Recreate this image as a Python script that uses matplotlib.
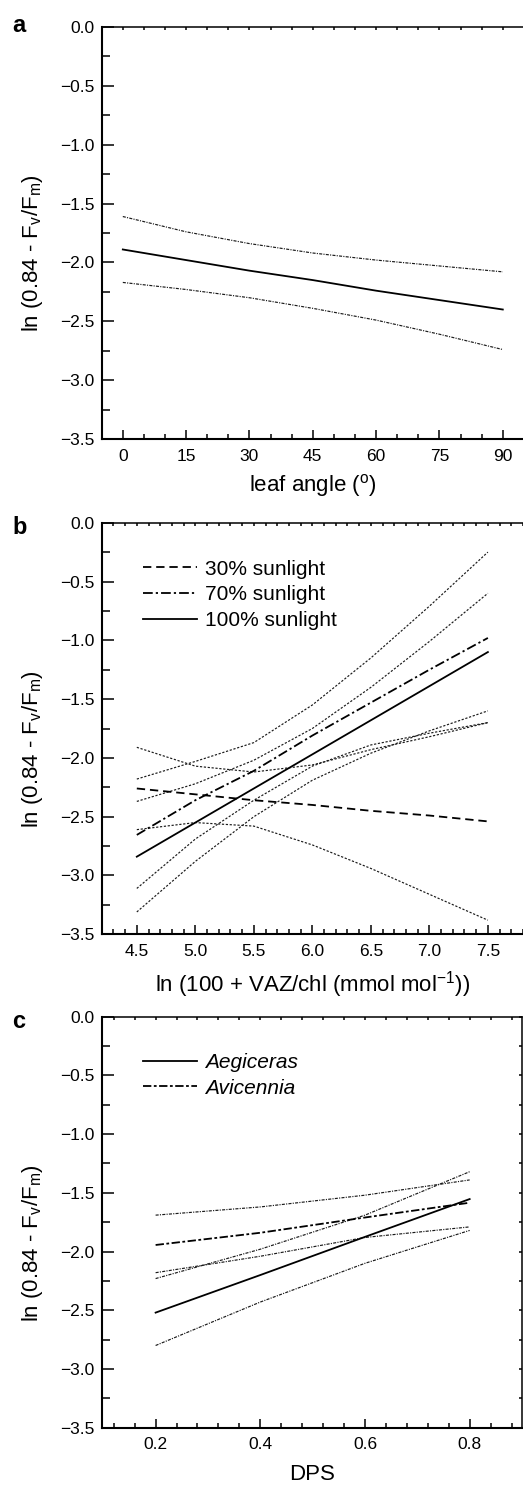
import matplotlib
matplotlib.use("Agg")
import matplotlib.pyplot as plt
from matplotlib.ticker import MultipleLocator

plt.rcParams['font.family'] = ['Liberation Sans', 'DejaVu Sans']
plt.rcParams['mathtext.default'] = 'regular'
plt.rcParams['lines.scale_dashes'] = False

# ---------------- data ----------------
# panel a
angle = [0, 15, 30, 45, 60, 75, 90]
a_fit = [-1.89, -1.98, -2.07, -2.15, -2.24, -2.32, -2.40]
a_up = [-1.61, -1.74, -1.84, -1.92, -1.98, -2.03, -2.08]
a_lo = [-2.17, -2.23, -2.30, -2.39, -2.49, -2.61, -2.74]

# panel b
vaz = [4.5, 5.0, 5.5, 6.0, 6.5, 7.0, 7.5]
b30_fit = [-2.26, -2.31, -2.36, -2.40, -2.45, -2.49, -2.54]
b30_up = [-1.91, -2.07, -2.12, -2.06, -1.93, -1.82, -1.70]
b30_lo = [-2.61, -2.55, -2.58, -2.74, -2.94, -3.16, -3.38]
b70_fit = [-2.655, -2.36, -2.11, -1.81, -1.53, -1.25, -0.98]
b70_up = [-2.18, -2.03, -1.87, -1.55, -1.15, -0.71, -0.25]
b70_lo = [-3.11, -2.69, -2.36, -2.07, -1.89, -1.79, -1.70]
b100_fit = [-2.84, -2.55, -2.26, -1.97, -1.68, -1.39, -1.10]
b100_up = [-2.37, -2.22, -2.02, -1.75, -1.40, -1.01, -0.60]
b100_lo = [-3.31, -2.88, -2.50, -2.19, -1.96, -1.77, -1.60]
b_labels = ['30% sunlight', '70% sunlight', '100% sunlight']

# panel c
dps = [0.2, 0.4, 0.6, 0.8]
ae_fit = [-2.52, -2.20, -1.875, -1.553]
ae_up = [-2.23, -1.98, -1.69, -1.32]
ae_lo = [-2.80, -2.43, -2.10, -1.82]
av_fit = [-1.944, -1.84, -1.71, -1.584]
av_up = [-1.69, -1.62, -1.52, -1.39]
av_lo = [-2.18, -2.04, -1.88, -1.79]
c_labels = ['Aegiceras', 'Avicennia']

# ---------------- styling ----------------
W, H = 523, 1488
fig = plt.figure(figsize=(W / 100, H / 100), dpi=100)

def axes_px(left, top, right, bottom):
    return fig.add_axes([left / W, 1 - bottom / H, (right - left) / W, (bottom - top) / H])

ylabel = 'ln (0.84 - F$_{v}$/F$_{m}$)'
TICKFS = 12.5
LABFS = 16
LEGFS = 15

ci_kw = dict(color='#1a1a1a', lw=0.85, dashes=(2.2, 0.9, 0.8, 0.9))
ci_kw_b = dict(color='#1a1a1a', lw=0.85, dashes=(1.6, 1.2))

def style(ax, xmajor, xminor, show_right):
    ax.set_ylim(-3.5, 0.0)
    ax.yaxis.set_major_locator(MultipleLocator(0.5))
    ax.yaxis.set_minor_locator(MultipleLocator(0.25))
    ax.xaxis.set_major_locator(MultipleLocator(xmajor))
    ax.xaxis.set_minor_locator(MultipleLocator(xminor))
    for s in ['left', 'bottom']:
        ax.spines[s].set_linewidth(1.5)
    ax.spines['top'].set_linewidth(1.1)
    ax.spines['right'].set_linewidth(1.1)
    ax.spines['right'].set_visible(show_right)
    ax.tick_params(axis='y', which='major', direction='in', length=8.5, width=1.1,
                   labelsize=TICKFS, pad=5, right=show_right)
    ax.tick_params(axis='y', which='minor', direction='in', length=5.5, width=1.1,
                   right=show_right)
    ax.tick_params(axis='x', which='major', direction='in', length=6.5, width=1.1,
                   labelsize=TICKFS, pad=7)
    ax.tick_params(axis='x', which='minor', direction='in', length=3.8, width=1.1)
    ax.tick_params(axis='x', which='both', top=True)
    ax.set_ylabel(ylabel, fontsize=LABFS, labelpad=11)
    ax.yaxis.label.set_y(0.45)
    # short top / right ticks
    for t in ax.xaxis.get_major_ticks() + ax.xaxis.get_minor_ticks():
        t.tick2line.set_markersize(1.8)
    for t in ax.yaxis.get_major_ticks() + ax.yaxis.get_minor_ticks():
        t.tick2line.set_markersize(2.0)

leg_kw = dict(loc='upper left', frameon=False, fontsize=LEGFS, handlelength=2.6,
              handletextpad=0.4, labelspacing=0.32, borderaxespad=0.0, borderpad=0.0)

# ---------------- panel a ----------------
axa = axes_px(101.7, 27, 523.9, 439)
axa.set_xlim(-5, 95)
axa.plot(angle, a_fit, color='black', lw=1.3)
axa.plot(angle, a_up, **ci_kw)
axa.plot(angle, a_lo, **ci_kw)
style(axa, 15, 5, False)
axa.set_xlabel('leaf angle ($^{o}$)', fontsize=LABFS, labelpad=6)
fig.text(12 / W, 1 - 26 / H, 'a', fontsize=17, fontweight='bold', va='center')

# ---------------- panel b ----------------
axb = axes_px(101.7, 522.7, 523.0, 934.3)
axb.set_xlim(4.2, 7.8)
for y in (b30_up, b30_lo, b70_up, b70_lo, b100_up, b100_lo):
    axb.plot(vaz, y, **ci_kw_b)
l30, = axb.plot(vaz, b30_fit, color='black', lw=1.3, dashes=(6, 3.5))
l70, = axb.plot(vaz, b70_fit, color='black', lw=1.3, dashes=(7, 2.2, 1.6, 2.2))
l100, = axb.plot(vaz, b100_fit, color='black', lw=1.3)
style(axb, 0.5, 0.1, False)
axb.set_xlabel('ln (100 + VAZ/chl (mmol mol$^{-1}$))', fontsize=LABFS, labelpad=7)
axb.legend([l30, l70, l100], b_labels, bbox_to_anchor=(0.098, 0.91), **leg_kw)
fig.text(12 / W, 1 - 527 / H, 'b', fontsize=17, fontweight='bold', va='center')

# ---------------- panel c ----------------
axc = axes_px(101.7, 1016.7, 522.0, 1427.7)
axc.set_xlim(0.097, 0.9)
for y in (ae_up, ae_lo, av_up, av_lo):
    axc.plot(dps, y, **ci_kw)
lae, = axc.plot(dps, ae_fit, color='black', lw=1.3)
lav, = axc.plot(dps, av_fit, color='black', lw=1.3, dashes=(6, 1.8, 2.0, 1.8))
style(axc, 0.2, 0.04, True)
axc.set_xlabel('DPS', fontsize=LABFS, labelpad=8)
legc = axc.legend([lae, lav], c_labels, bbox_to_anchor=(0.098, 0.912), **leg_kw)
for t in legc.get_texts():
    t.set_fontstyle('italic')
fig.text(12 / W, 1 - 1022 / H, 'c', fontsize=17, fontweight='bold', va='center')

fig.savefig('out.png', dpi=100)
